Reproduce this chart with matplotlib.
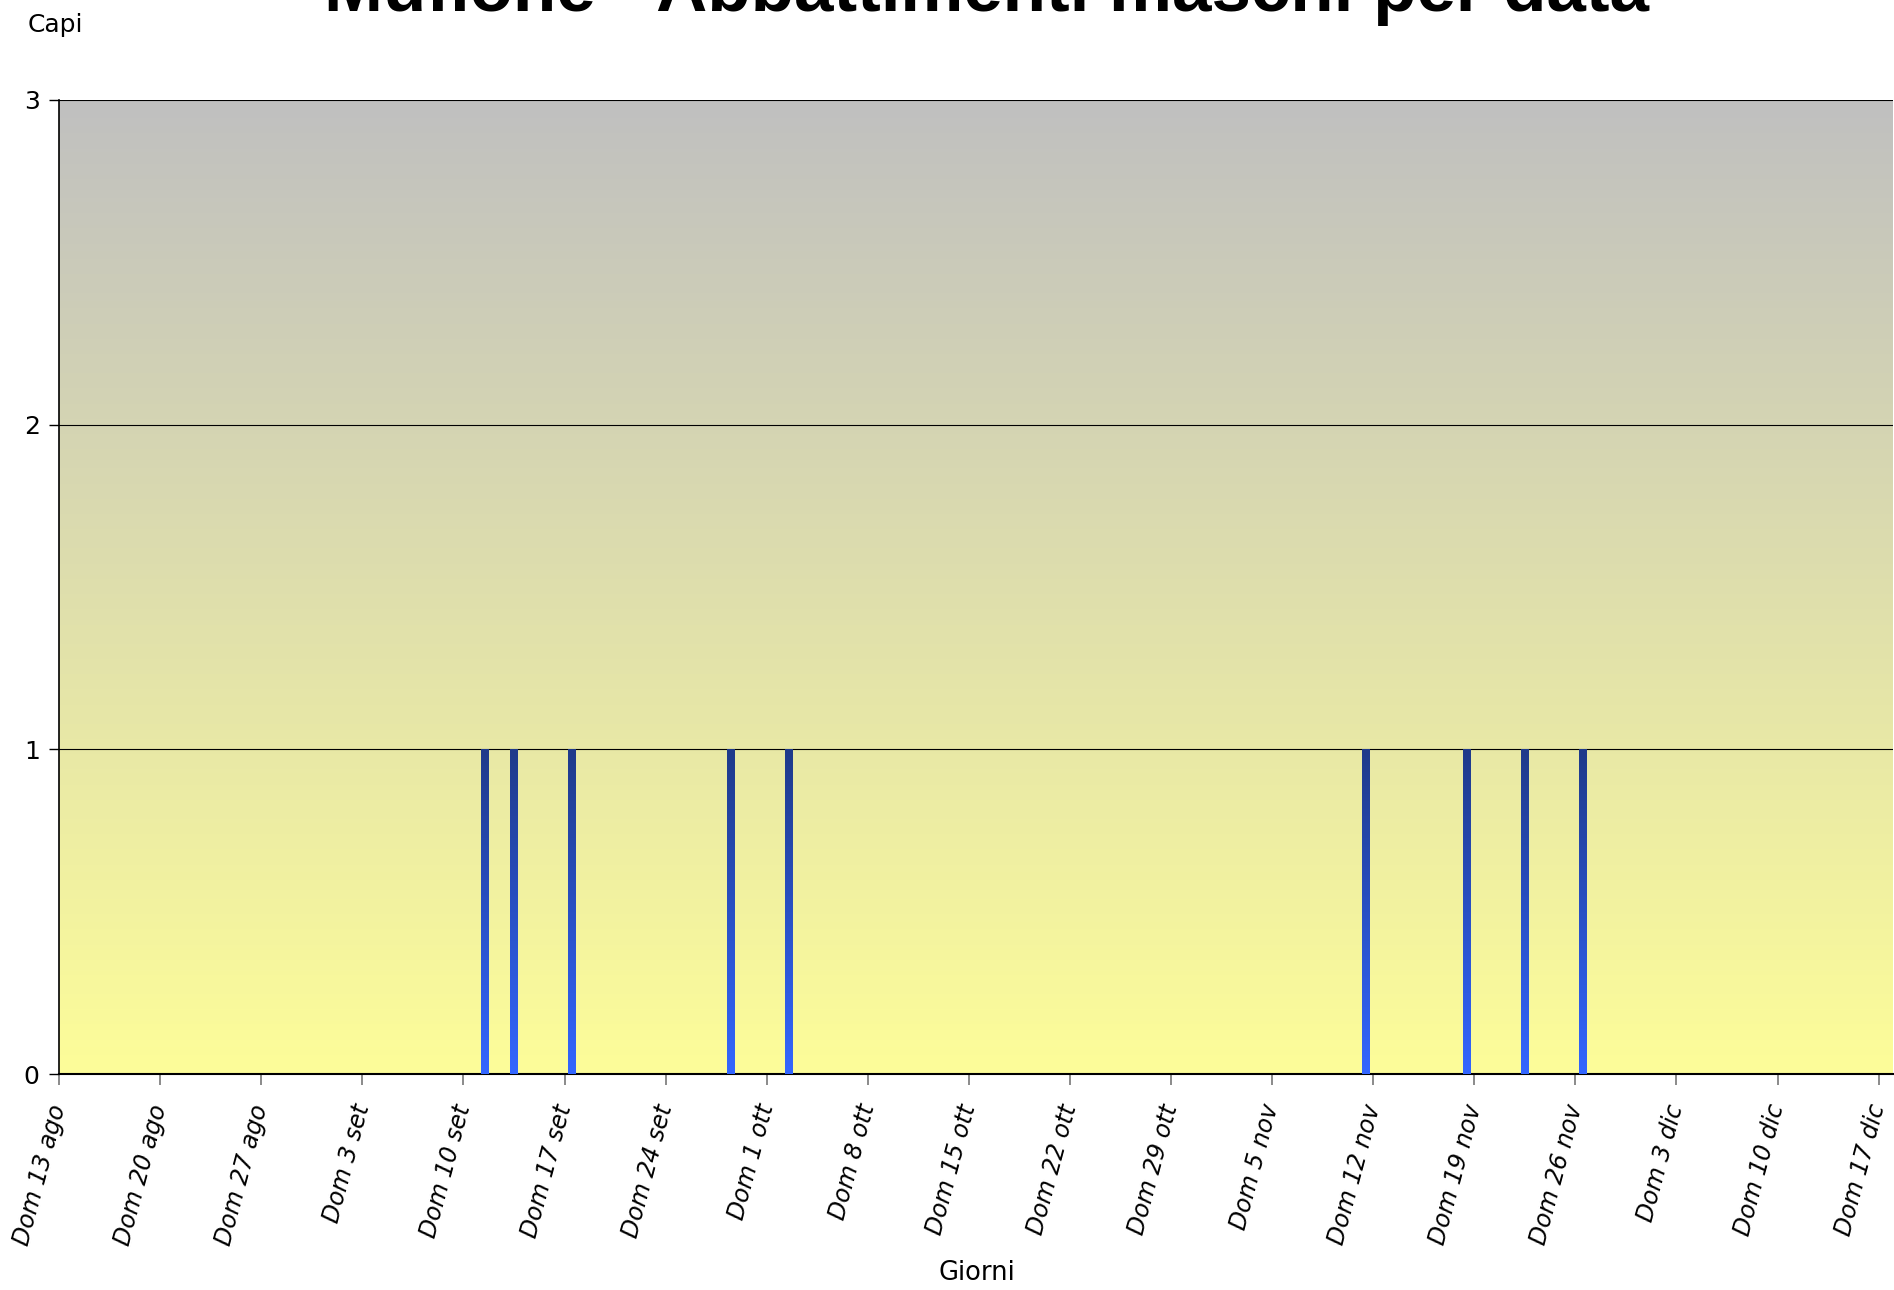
import numpy as np
import matplotlib.pyplot as plt
import matplotlib.dates as mdates
from matplotlib.colors import LinearSegmentedColormap

# dati: abbattimenti maschi per data
date_abbattimento = ['2006-09-11', '2006-09-13', '2006-09-17', '2006-09-28', '2006-10-02',
                     '2006-11-11', '2006-11-18', '2006-11-22', '2006-11-26']
capi = [1, 1, 1, 1, 1, 1, 1, 1, 1]

# etichette asse x (domeniche)
tick_labels = ['Dom 13 ago', 'Dom 20 ago', 'Dom 27 ago', 'Dom 3 set', 'Dom 10 set',
               'Dom 17 set', 'Dom 24 set', 'Dom 1 ott', 'Dom 8 ott', 'Dom 15 ott',
               'Dom 22 ott', 'Dom 29 ott', 'Dom 5 nov', 'Dom 12 nov', 'Dom 19 nov',
               'Dom 26 nov', 'Dom 3 dic', 'Dom 10 dic', 'Dom 17 dic']
y_ticks = [0, 1, 2, 3]

x0 = mdates.date2num(np.datetime64('2006-08-13'))
tick_pos = x0 + 7 * np.arange(len(tick_labels))
x_bar = mdates.date2num(np.array(date_abbattimento, dtype='datetime64[D]')) + 0.5

fig = plt.figure(figsize=(18.94, 12.9), dpi=100)
ax = fig.add_axes([0.0312, 0.1674, 0.9683, 0.7551])

# sfondo sfumato grigio -> giallo
bg_cmap = LinearSegmentedColormap.from_list('bg', ['#FDFD99', '#C0C0C0'])
grad = np.linspace(0, 1, 256).reshape(-1, 1)
ax.imshow(grad, extent=[0, 1, 0, 1], transform=ax.transAxes, origin='lower',
          aspect='auto', cmap=bg_cmap, zorder=0)

# barre con sfumatura blu
bar_cmap = LinearSegmentedColormap.from_list('bar', ['#3366FF', '#1F3A8A'])
bars = ax.bar(x_bar, capi, width=0.5, color='none', edgecolor='none', zorder=3)
for b in bars:
    im = ax.imshow(grad, extent=[b.get_x(), b.get_x() + b.get_width(), 0, b.get_height()],
                   origin='lower', aspect='auto', cmap=bar_cmap, zorder=3)
    im.set_clip_path(b)

ax.set_xlim(x0, x0 + 127)
ax.set_ylim(0, 3)
ax.set_aspect('auto')

ax.yaxis.grid(True, color='black', linewidth=0.8)
ax.set_axisbelow(True)

ax.set_yticks(y_ticks)
ax.set_yticklabels([str(v) for v in y_ticks], fontsize=18)
ax.set_xticks(tick_pos)
ax.set_xticklabels(tick_labels, fontsize=17, style='italic', rotation=75,
                   ha='right', va='center', rotation_mode='anchor')
ax.tick_params(axis='x', direction='out', length=8, width=1.2, color='#777777', pad=14)
ax.tick_params(axis='y', direction='out', length=7, width=1, pad=7)

for s in ['top', 'right']:
    ax.spines[s].set_visible(False)
ax.spines['left'].set_linewidth(1.2)
ax.spines['bottom'].set_linewidth(1.5)

fig.text(0.521, 0.9915, 'Muflone - Abbattimenti maschi per data', ha='center',
         va='baseline', fontsize=51, fontweight='bold', family=['Liberation Sans', 'DejaVu Sans'])
fig.text(0.029, 0.981, 'Capi', ha='center', va='center', fontsize=18)
fig.text(0.516, 0.013, 'Giorni', ha='center', va='center', fontsize=18.5)

fig.savefig('out.png', dpi=100)
